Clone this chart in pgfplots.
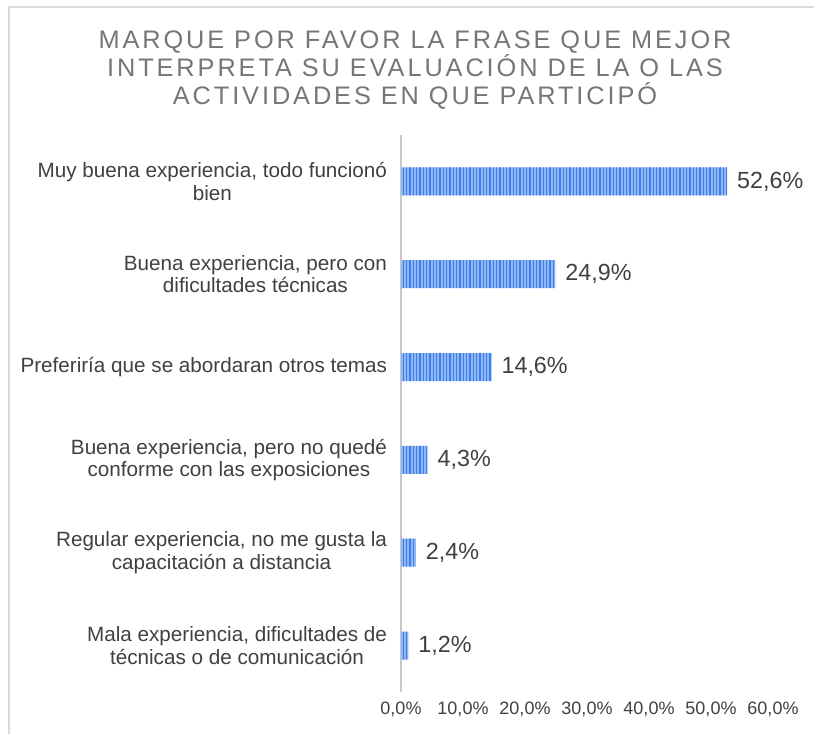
\documentclass[border=0pt]{standalone}
\usepackage{fontspec}
\setmainfont{Liberation Sans}
\usepackage{pgfplots}
\pgfplotsset{compat=1.18}
\usetikzlibrary{patterns.meta}
\definecolor{barlight}{HTML}{8FB6F5}
\definecolor{bardark}{HTML}{3F7FE8}
\definecolor{labelgray}{HTML}{404040}
\definecolor{titlegray}{HTML}{767676}
\definecolor{framegray}{HTML}{D9D9D9}
\definecolor{axisgray}{HTML}{C8C8C8}

\begin{document}
\begin{tikzpicture}
\useasboundingbox (0,0) rectangle (610.5pt,550.5pt);
\draw[framegray, line width=1.5pt] (6.75pt,0) -- (6.75pt,545.25pt) -- (611pt,545.25pt);
\node[align=center, text=titlegray, font=\fontsize{19}{20.8}\selectfont\addfontfeatures{LetterSpace=11.5}]
  at (311.25pt,498pt) {MARQUE POR FAVOR LA FRASE QUE MEJOR\\INTERPRETA SU EVALUACIÓN DE LA O LAS\\ACTIVIDADES EN QUE PARTICIPÓ};
\begin{axis}[
    at={(300.75pt,31.5pt)}, anchor=south west,
    scale only axis,
    width=279pt, height=417.75pt,
    xbar,
    bar width=21pt,
    xmin=0, xmax=60,
    ymin=-0.5, ymax=5.5,
    xtick={0,10,...,60},
    ytick={0,...,5},
    yticklabels={
        {Mala experiencia, dificultades de\\técnicas o de comunicación},
        {Regular experiencia, no me gusta la\\capacitación a distancia},
        {Buena experiencia, pero no quedé\\conforme con las exposiciones},
        {Preferiría que se abordaran otros temas},
        {Buena experiencia, pero con\\dificultades técnicas},
        {Muy buena experiencia, todo funcionó\\bien}},
    axis lines*=left,
    separate axis lines,
    x axis line style={draw=none},
    y axis line style={axisgray, line width=2pt},
    major tick length=0pt,
    /pgf/number format/assume math mode=true,
    xticklabel={\pgfmathprintnumber[fixed,fixed zerofill,precision=1,use comma]{\tick}\%},
    xticklabel style={font=\fontsize{13.5}{15}\selectfont, text=labelgray, yshift=-4pt},
    yticklabel style={font=\fontsize{15.5}{16.8}\selectfont, text=labelgray, align=center, xshift=-7pt},
    point meta=x,
    nodes near coords={\pgfmathprintnumber[fixed,fixed zerofill,precision=1,use comma]{\pgfplotspointmeta}\%},
    every node near coord/.append style={font=\fontsize{17.5}{20}\selectfont, text=labelgray, xshift=4pt},
]
\addplot[fill=barlight, draw=none,
    postaction={pattern={Lines[angle=90,distance=2.5pt,line width=1.2pt]}, pattern color=bardark}]
    coordinates {
    (1.2,0)
    (2.4,1)
    (4.3,2)
    (14.6,3)
    (24.9,4)
    (52.6,5)
};
\end{axis}
\end{tikzpicture}
\end{document}
